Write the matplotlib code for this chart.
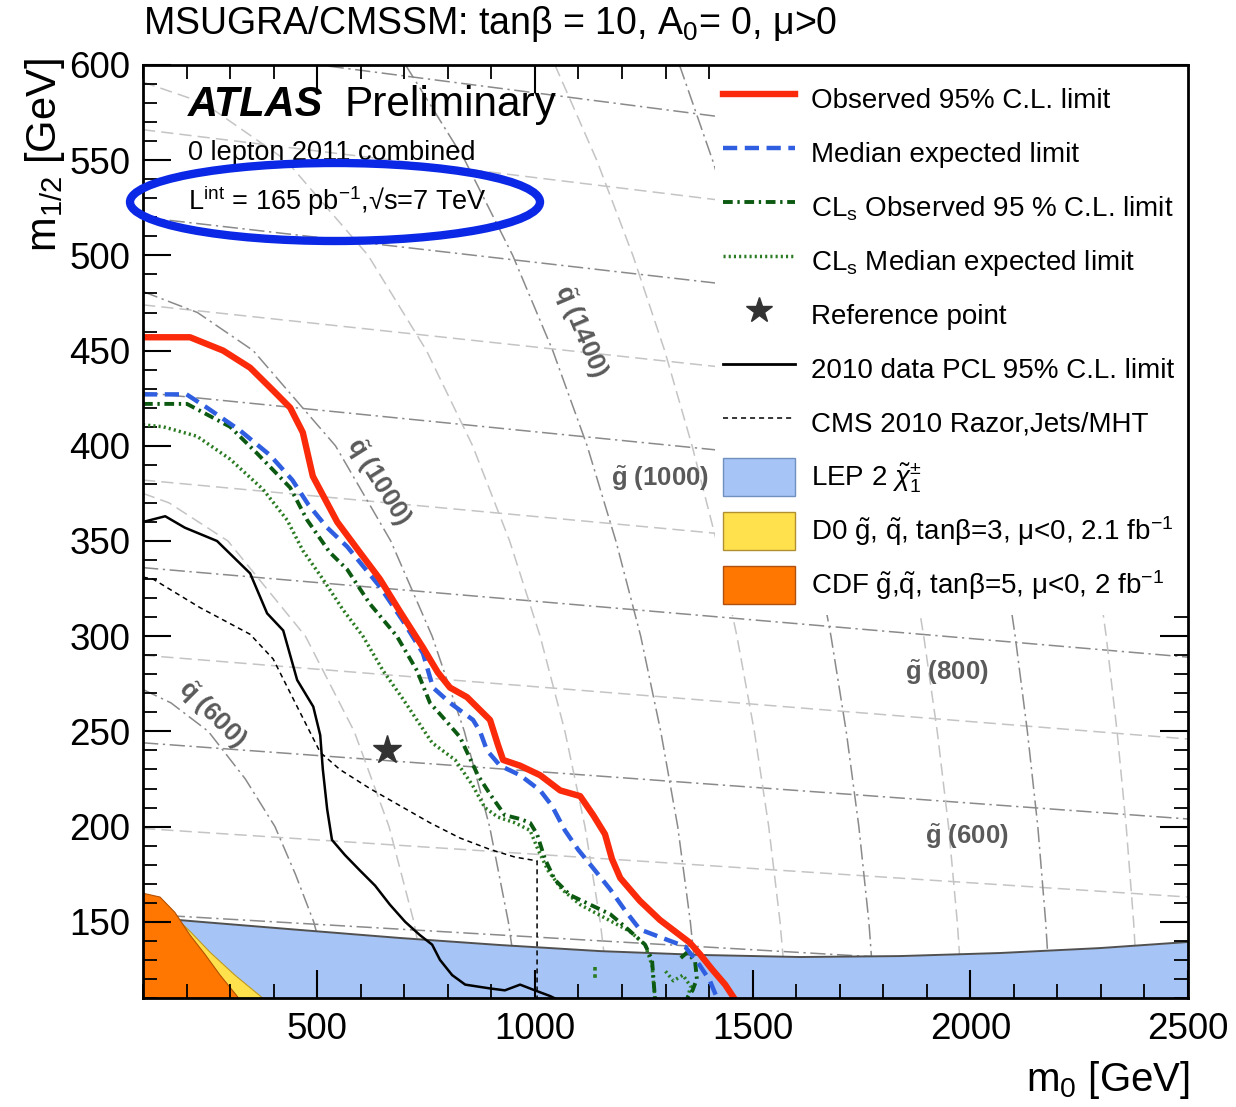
import numpy as np
import matplotlib
matplotlib.use("Agg")
import matplotlib.pyplot as plt
from matplotlib.lines import Line2D
from matplotlib.patches import Patch, Ellipse, Rectangle
from matplotlib.ticker import MultipleLocator

plt.rcParams['font.family'] = ['Liberation Sans', 'DejaVu Sans']
plt.rcParams['mathtext.fontset'] = 'custom'
plt.rcParams['mathtext.rm'] = 'Liberation Sans'
plt.rcParams['mathtext.it'] = 'Liberation Sans:italic'
plt.rcParams['mathtext.bf'] = 'Liberation Sans:bold'

# --- limit curves (m0, m1/2) in GeV ---
obs_m0 = [100, 208, 284, 346, 399, 438, 467, 479, 490, 546, 598, 644, 690, 743, 777, 805, 844, 897,
          915, 927, 966, 1012, 1058, 1104, 1134, 1161, 1177, 1196, 1241, 1287, 1333, 1356, 1379, 1407,
          1437, 1460]
obs_m12 = [457, 457, 450, 441, 429, 420, 407, 395, 384, 360, 344, 330, 313, 294, 281, 273, 268, 256,
           243, 235, 232, 227, 219, 216, 206, 196, 183, 173, 161, 151, 143, 139, 133, 125, 117, 109]

exp_m0 = [100, 200, 247, 323, 392, 443, 480, 523, 569, 644, 697, 743, 766, 805, 858, 874, 890, 920,
          966, 1012, 1039, 1069, 1099, 1138, 1173, 1207, 1241, 1287, 1345, 1379, 1402, 1420]
exp_m12 = [427, 427, 420, 408, 395, 382, 369, 357, 347, 326, 308, 291, 273, 265, 256, 250, 240, 232,
           227, 219, 211, 198, 188, 177, 167, 156, 146, 142, 137, 127, 119, 109]

cls_obs_m0 = [100, 201, 300, 362, 438, 477, 529, 569, 621, 683, 729, 759, 794, 828, 869, 897, 931, 966,
              989, 1005, 1023, 1046, 1081, 1127, 1173, 1214, 1253, 1269, 1276]
cls_obs_m12 = [422, 422, 410, 396, 378, 361, 344, 335, 317, 300, 282, 265, 256, 247, 227, 217, 206, 204,
               202, 196, 183, 172, 164, 159, 154, 146, 138, 130, 109]

cls_exp_m0 = [100, 146, 224, 300, 376, 431, 467, 513, 559, 605, 651, 697, 729, 764, 817, 856, 885, 915,
              954, 989, 1007, 1030, 1062, 1104, 1161, 1218, 1253, 1269, 1276]
cls_exp_m12 = [411, 410, 405, 393, 377, 361, 345, 330, 314, 300, 282, 267, 256, 244, 235, 222, 210, 205,
               202, 198, 188, 177, 167, 159, 152, 145, 138, 127, 109]

# small CLs islands near the bottom
cls_obs_loop_m0 = [1335, 1350, 1368, 1372, 1362, 1350]
cls_obs_loop_m12 = [131, 134, 129, 120, 114, 110]
cls_exp_loop_m0 = [1300, 1318, 1340, 1358, 1350]
cls_exp_loop_m12 = [124, 119, 122, 116, 110]
cls_speck_m0 = [1138, 1138]
cls_speck_m12 = [126, 119]

pcl_m0 = [100, 151, 196, 270, 346, 385, 422, 454, 491, 507, 513, 523, 534, 564, 598, 633, 667, 702,
          736, 764, 782, 810, 840, 897, 931, 966, 1000, 1035, 1053]
pcl_m12 = [360, 363, 357, 350, 333, 312, 303, 277, 263, 248, 230, 209, 193, 185, 177, 169, 159, 150,
           143, 138, 130, 122, 117, 115, 114, 117, 114, 111, 109]

cms_m0 = [100, 123, 231, 346, 399, 454, 507, 552, 621, 690, 759, 828, 897, 954, 1005, 1005]
cms_m12 = [331, 330, 315, 301, 288, 263, 239, 230, 220, 211, 202, 194, 188, 184, 182, 109]

ref_m0, ref_m12 = 660, 240

# excluded regions
lep_m0 = [100, 231, 461, 690, 920, 1150, 1379, 1609, 1839, 2068, 2298, 2500]
lep_m12 = [152.5, 150, 145.7, 141.5, 137.8, 134.6, 132.6, 131.5, 132, 133.6, 136.2, 139.4]
d0_m0 = [100, 162, 208, 254, 311, 380, 396, 100]
d0_m12 = [161.5, 155, 145, 134, 122, 109, 100, 100]
cdf_m0 = [100, 139, 173, 208, 242, 277, 323, 340, 100]
cdf_m12 = [165, 163, 155, 143, 133, 122, 109, 100, 100]

# iso-mass reference lines
gl_mass = [400, 500, 600, 700, 800, 900, 1000, 1100, 1200, 1300, 1400, 1500]
gl_left = [154, 199, 244, 290, 336, 382, 428, 474, 520, 566, 612, 658]     # m1/2 at m0 = 100
gl_right = [122, 163, 204, 246, 289, 331, 373, 415, 457, 499, 541, 583]    # m1/2 at m0 = 2500

sq_m12 = [600, 550, 500, 450, 400, 350, 300, 250, 200, 150, 110]
squarks = {
    600: ([100, 164, 250, 335, 403, 450, 492, 539], [272, 265, 250, 225, 200, 175, 150, 110]),
    800: ([100, 160, 295, 473, 585, 665, 722, 755], [375, 370, 350, 300, 250, 200, 150, 110]),
    1000: ([100, 225, 353, 542, 669, 764, 838, 896, 939, 964], [481, 470, 450, 400, 350, 300, 250, 200, 150, 110]),
    1200: ([100, 240, 428, 617, 751, 857, 942, 1012, 1069, 1115, 1150, 1171],
           [591, 580, 550, 500, 450, 400, 350, 300, 250, 200, 150, 110]),
    1400: ([703, 839, 949, 1041, 1120, 1186, 1243, 1289, 1328, 1357, 1375], sq_m12),
    1600: ([1046, 1142, 1225, 1298, 1361, 1417, 1464, 1504, 1537, 1563, 1578], sq_m12),
    1800: ([1332, 1408, 1477, 1538, 1592, 1639, 1680, 1715, 1744, 1767, 1780], sq_m12),
    2000: ([1592, 1656, 1715, 1768, 1815, 1857, 1893, 1924, 1950, 1970, 1982], sq_m12),
    2200: ([1837, 1893, 1944, 1991, 2033, 2071, 2103, 2131, 2155, 2173, 2184], sq_m12),
    2400: ([2072, 2122, 2168, 2210, 2248, 2282, 2312, 2337, 2358, 2375, 2385], sq_m12),
    2600: ([2301, 2346, 2388, 2426, 2460, 2491, 2519], sq_m12[:7]),
}

red = '#fa2a0a'
blue = '#2f5fe0'
dgreen = '#0c5a12'
green = '#2a7a22'
lep_c = '#a6c4f5'
d0_c = '#ffe04d'
cdf_c = '#ff7700'
dd_style = dict(color='#8a8a8a', lw=1.1, ls=(0, (10, 3, 1.5, 3)), zorder=0.8)
da_style = dict(color='#c4c4c4', lw=1.1, ls=(0, (8, 4)), zorder=0.8)

fig = plt.figure(figsize=(12.36, 11.07), dpi=100)
ax = fig.add_axes([0.1157, 0.0985, 0.8455, 0.8428])

# reference grid of gluino / squark masses
for m, yl, yr in zip(gl_mass, gl_left, gl_right):
    st = dd_style if m % 200 == 0 else da_style
    ax.plot([100, 2500], [yl, yr], **st)
for m, (xs, ys) in squarks.items():
    st = dd_style if (m - 600) % 400 == 0 else da_style
    ax.plot(xs, ys, **st)

lab = dict(color='#5a5a5a', fontsize=18.5, fontweight='bold', ha='center', va='center', zorder=2)
ax.text(258, 259, r'$\tilde{\mathbf{q}}$ (600)', rotation=-45, **lab)
ax.text(640, 381, r'$\tilde{\mathbf{q}}$ (1000)', rotation=-58, **lab)
ax.text(1104, 460, r'$\tilde{\mathbf{q}}$ (1400)', rotation=-67, **lab)
ax.text(1287, 383, r'$\tilde{\mathbf{g}}$ (1000)', **lab)
ax.text(1947, 281, r'$\tilde{\mathbf{g}}$ (800)', **lab)
ax.text(1993, 195, r'$\tilde{\mathbf{g}}$ (600)', **lab)

# excluded regions
ax.fill_between(lep_m0, lep_m12, 100, color=lep_c, lw=0, zorder=1)
ax.plot(lep_m0, lep_m12, color='#505050', lw=1.4, zorder=1.1)
ax.fill(d0_m0, d0_m12, fc=d0_c, ec='#c09a20', lw=0.8, zorder=1.1)
ax.fill(cdf_m0, cdf_m12, fc=cdf_c, ec='#b35000', lw=0.8, zorder=1.2)

# white box behind legend
ax.add_patch(Rectangle((0.547, 0.4105), 0.453, 0.5895, transform=ax.transAxes,
                       fc='white', ec='none', zorder=1.6))

# limit curves
ax.plot(cms_m0, cms_m12, color='black', lw=1.1, ls=(0, (3.3, 2.6)), zorder=3)
ax.plot(pcl_m0, pcl_m12, color='black', lw=1.8, zorder=3)
ax.plot(cls_exp_m0, cls_exp_m12, color=green, lw=2.5, ls=(0, (0.6, 0.9)), zorder=4)
ax.plot(cls_exp_loop_m0, cls_exp_loop_m12, color=green, lw=2.5, ls=(0, (0.6, 0.9)), zorder=4)
ax.plot(cls_obs_m0, cls_obs_m12, color=dgreen, lw=2.8, ls=(0, (2.5, 1.2, 0.6, 1.2)), zorder=4.2)
ax.plot(cls_obs_loop_m0, cls_obs_loop_m12, color=dgreen, lw=2.8, ls=(0, (2.5, 1.2, 0.6, 1.2)), zorder=4.2)
ax.plot(cls_speck_m0, cls_speck_m12, color=green, lw=2.6, ls=(0, (1, 1)), zorder=4.2)
ax.plot(exp_m0, exp_m12, color=blue, lw=3.2, ls=(0, (3.2, 1.7)), zorder=5)
ax.plot(obs_m0, obs_m12, color=red, lw=4.6, zorder=6, solid_joinstyle='round')
ax.plot(ref_m0, ref_m12, marker='*', ms=21, color='#333333', ls='none', zorder=7)

ax.set_xlim(100, 2500)
ax.set_ylim(110, 600)
ax.set_xticks([500, 1000, 1500, 2000, 2500])
ax.xaxis.set_minor_locator(MultipleLocator(100))
ax.yaxis.set_major_locator(MultipleLocator(50))
ax.yaxis.set_minor_locator(MultipleLocator(10))
ax.tick_params(which='major', direction='in', length=20, width=1.5, labelsize=26.5,
               top=True, right=True)
ax.tick_params(which='minor', direction='in', length=10, width=1.3, top=True, right=True)
ax.tick_params(axis='x', pad=10)
ax.tick_params(axis='y', pad=9)
for sp in ax.spines.values():
    sp.set_linewidth(2)
    sp.set_zorder(10)

# legend
handles = [
    Line2D([], [], color=red, lw=4.6),
    Line2D([], [], color=blue, lw=3.2, ls=(0, (3.2, 1.7))),
    Line2D([], [], color=dgreen, lw=2.8, ls=(0, (2.5, 1.2, 0.6, 1.2))),
    Line2D([], [], color=green, lw=2.5, ls=(0, (0.6, 0.9))),
    Line2D([], [], color='#333333', marker='*', ms=19, ls='none'),
    Line2D([], [], color='black', lw=2),
    Line2D([], [], color='black', lw=1.1, ls=(0, (3.3, 2.6))),
    Patch(fc=lep_c, ec='#7090c0'),
    Patch(fc=d0_c, ec='#b09030'),
    Patch(fc=cdf_c, ec='#b05010'),
]
labels = [
    'Observed 95% C.L. limit',
    'Median expected limit',
    'CL$_\\mathrm{s}$ Observed 95 % C.L. limit',
    'CL$_\\mathrm{s}$ Median expected limit',
    'Reference point',
    '2010 data PCL 95% C.L. limit',
    'CMS 2010 Razor,Jets/MHT',
    r'LEP 2 $\tilde{\chi}_{1}^{\pm}$',
    r'D0 $\tilde{\mathrm{g}}$, $\tilde{\mathrm{q}}$, tanβ=3, μ<0, 2.1 fb$^{-1}$',
    r'CDF $\tilde{\mathrm{g}}$,$\tilde{\mathrm{q}}$, tanβ=5, μ<0, 2 fb$^{-1}$',
]
leg = ax.legend(handles, labels, loc='upper left', bbox_to_anchor=(0.555, 0.984),
                frameon=False, fontsize=20, handlelength=2.6, handleheight=1.75,
                labelspacing=0.56, handletextpad=0.55, borderpad=0, borderaxespad=0)
leg.set_zorder(12)

# annotation text
ax.text(0.043, 0.957, 'ATLAS', transform=ax.transAxes, fontsize=30, fontweight='bold',
        fontstyle='italic', va='center', ha='left', zorder=12)
ax.text(0.193, 0.957, 'Preliminary', transform=ax.transAxes, fontsize=30.5,
        va='center', ha='left', zorder=12)
ax.text(0.043, 0.906, '0 lepton 2011 combined', transform=ax.transAxes, fontsize=19.5,
        va='center', ha='left', zorder=12)
ax.text(0.043, 0.855, 'L$^{\\mathrm{int}}$ = 165 pb$^{-1}$,√s=7 TeV', transform=ax.transAxes,
        fontsize=19.5, va='center', ha='left', zorder=12)

fig.text(143 / 1236, 1 - 24 / 1107, 'MSUGRA/CMSSM: tanβ = 10, A$_0$= 0, μ>0',
         fontsize=27, ha='left', va='center')
fig.text(45 / 1236, 1 - 58 / 1107, 'm$_{1/2}$ [GeV]', rotation=90, fontsize=30,
         ha='center', va='top')
fig.text(1190 / 1236, 1 - 1080 / 1107, 'm$_0$ [GeV]', fontsize=29, ha='right', va='center')

# blue highlight ring
ring = Ellipse((335 / 1236, 1 - 202 / 1107), 410 / 1236, 78 / 1107, transform=fig.transFigure,
               fill=False, ec='#0a28e6', lw=6, zorder=20)
fig.add_artist(ring)

fig.savefig('out.png', dpi=100)
